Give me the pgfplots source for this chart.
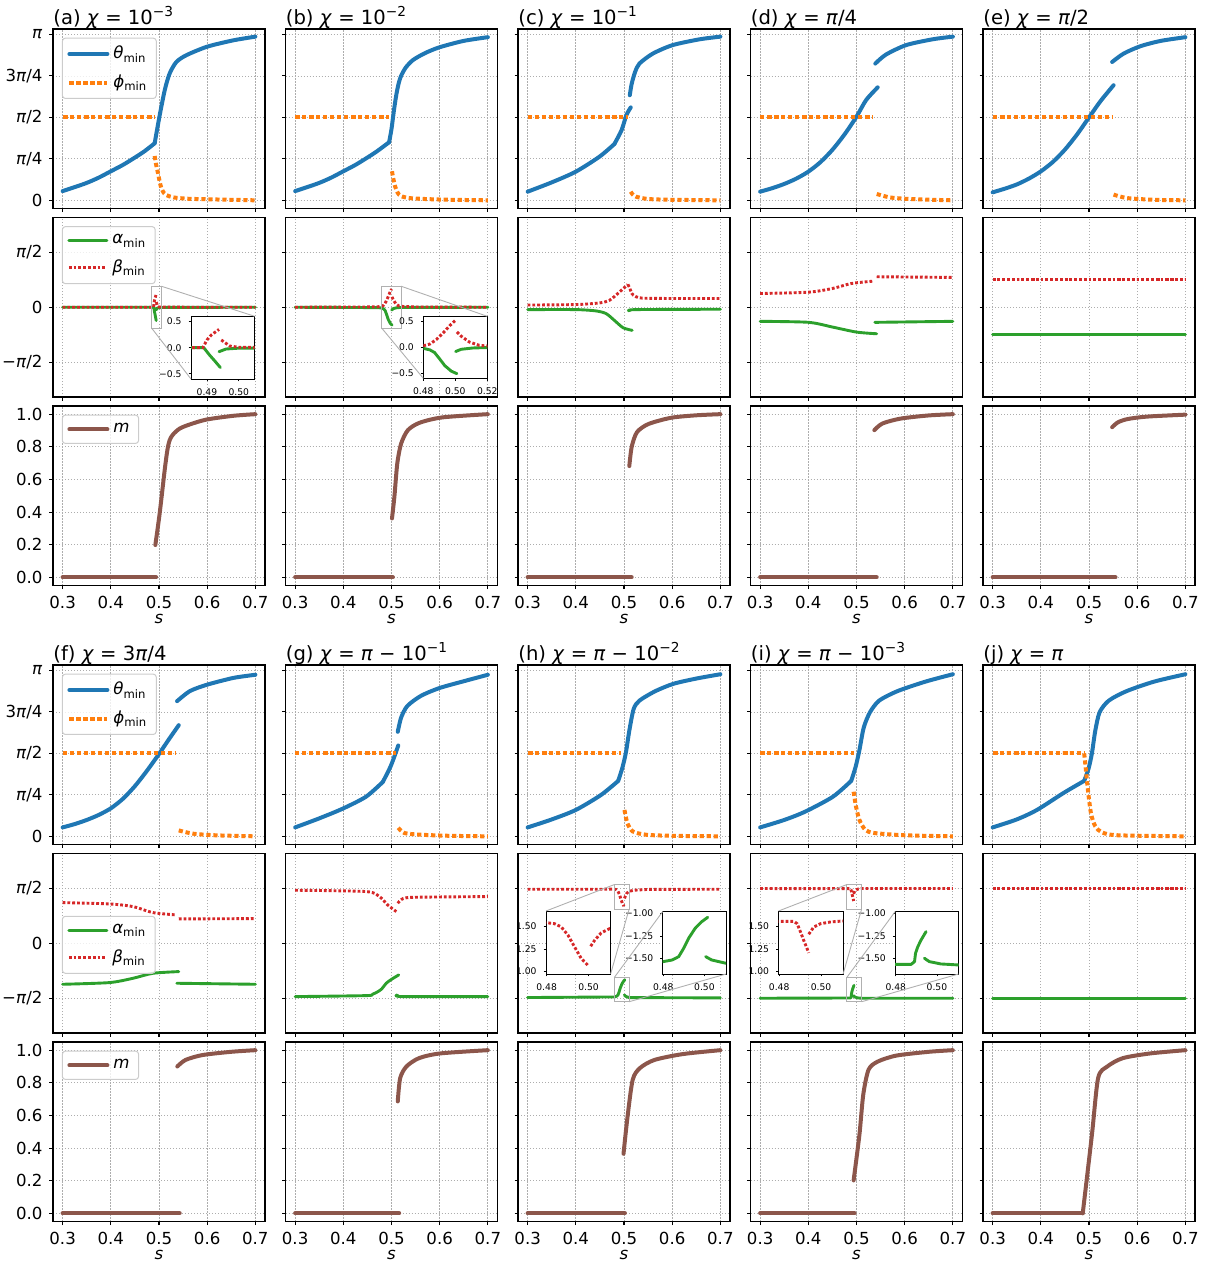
\documentclass[border=0pt]{standalone}
\usepackage{fontspec}
\setmainfont{DejaVu Sans}
\usepackage{pgfplots}
\usepackage{pgfplotstable}
\pgfplotsset{compat=1.18}

\definecolor{tabblue}{HTML}{1F77B4}
\definecolor{taborange}{HTML}{FF7F0E}
\definecolor{tabgreen}{HTML}{2CA02C}
\definecolor{tabred}{HTML}{D62728}
\definecolor{tabbrown}{HTML}{8C564B}
\definecolor{zoomgray}{HTML}{B0B0B0}

\newcommand\tfs{\fontsize{8.3}{9.5}\selectfont}
\newcommand\hfs{\fontsize{9.8}{11}\selectfont}
\newcommand\ifs{\fontsize{4.6}{5.5}\selectfont}
\newcommand\pii{\textit{π}}

\tikzset{zoomln/.style={draw=zoomgray, line width=0.45pt}}

% inset series (alpha, beta) for panels a, b, h, i
\pgfplotstableread{
x y
0.30 0
0.489 0
0.4908 -0.14
0.4924 -0.25
0.4942 -0.38
0.4942 nan
0.4938 -0.077
0.496 -0.026
0.50 -0.01
0.52 -0.003
0.70 0
}\aAl
\pgfplotstableread{
x y
0.30 0
0.4887 0
0.490 0.147
0.4914 0.244
0.4938 0.35
0.4938 nan
0.4945 0.147
0.4972 0.03
0.50 0.008
0.52 0.002
0.70 0
}\aBe
\pgfplotstableread{
x y
0.30 0
0.47 -0.01
0.48 -0.02
0.4841 -0.05
0.487 -0.10
0.4903 -0.228
0.4934 -0.354
0.4975 -0.462
0.501 -0.51
0.501 nan
0.5002 -0.082
0.5037 -0.038
0.511 -0.013
0.52 -0.005
0.70 0
}\bAl
\pgfplotstableread{
x y
0.30 0
0.47 0.01
0.48 0.03
0.4841 0.063
0.4882 0.152
0.4924 0.278
0.4965 0.418
0.50 0.52
0.50 nan
0.501 0.297
0.5037 0.215
0.5089 0.10
0.515 0.038
0.52 0.025
0.55 0.008
0.70 0
}\bBe
\pgfplotstableread{
x y
0.30 -1.550
0.48 -1.533
0.4843 -1.515
0.4875 -1.478
0.4899 -1.386
0.4923 -1.276
0.4955 -1.165
0.4987 -1.092
0.5016 -1.044
0.5016 nan
0.5006 -1.478
0.5035 -1.515
0.5104 -1.551
0.70 -1.560
}\hAl
\pgfplotstableread{
x y
0.30 1.543
0.48 1.544
0.4838 1.533
0.487 1.496
0.4902 1.404
0.4933 1.274
0.4965 1.144
0.50 1.059
0.50 nan
0.501 1.281
0.5029 1.348
0.506 1.43
0.51 1.478
0.52 1.515
0.55 1.538
0.70 1.543
}\hBe
\pgfplotstableread{
x y
0.30 -1.570
0.4875 -1.563
0.4891 -1.533
0.4896 -1.44
0.4907 -1.368
0.4923 -1.294
0.4947 -1.202
0.4947 nan
0.4939 -1.496
0.4963 -1.533
0.5019 -1.559
0.5104 -1.570
0.70 -1.570
}\iAl
\pgfplotstableread{
x y
0.30 1.563
0.487 1.559
0.4886 1.533
0.4902 1.44
0.4917 1.348
0.4933 1.256
0.4941 1.207
0.4941 nan
0.4941 1.415
0.4965 1.496
0.4997 1.533
0.5044 1.552
0.51 1.563
0.70 1.565
}\iBe

\pgfplotsset{
  legend image code/.code={\draw[#1, sharp plot] (0pt,0pt) -- (19pt,0pt);},
  panel/.style={
    scale only axis, width=106pt, height=89.75pt, anchor=north west,
    xmin=0.28, xmax=0.72, xtick={0.3,0.4,0.5,0.6,0.7},
    xticklabels={}, yticklabels={},
    grid=major,
    grid style={line width=0.4pt, draw=black!32, dash pattern=on 0.6pt off 0.9pt},
    tick align=outside, tick pos=left, major tick length=1.75pt,
    axis line style={line width=0.55pt},
    every tick/.style={black, line width=0.55pt},
    tick label style={font=\tfs},
    unbounded coords=jump,
    every axis title/.style={at={(0,1)}, anchor=base west, yshift=2.4pt, inner sep=0pt, font=\hfs},
    every axis x label/.style={at={(0.5,0)}, anchor=base, yshift=-18.8pt, inner sep=0pt, font=\tfs},
  },
  rowA/.style={ymin=-0.155, ymax=3.245, ytick={0,0.785398,1.570796,2.356194,3.141593}},
  rowB/.style={ymin=-2.563, ymax=2.563, ytick={-1.570796,0,1.570796}},
  rowC/.style={ymin=-0.05, ymax=1.05, ytick={0,0.2,0.4,0.6,0.8,1.0}},
  labA/.style={yticklabels={0,\pii/4,\pii/2,3\pii/4,\pii}},
  labB/.style={yticklabels={−\pii/2,0,\pii/2}},
  labC/.style={yticklabels={0.0,0.2,0.4,0.6,0.8,1.0}},
  labX/.style={xticklabels={0.3,0.4,0.5,0.6,0.7}, xlabel={\textit{s}}},
  mylegend/.style={legend style={at={(0.042,#1)}, anchor=north west,
    draw=black!20, line width=0.5pt, rounded corners=1.5pt,
    fill=white, fill opacity=0.8, draw opacity=1, text opacity=1,
    font=\tfs, inner xsep=2.5pt, inner ysep=2pt, row sep=2.5pt,
    cells={anchor=west}}},
  mylegend/.default=0.952,
  inset/.style={
    scale only axis, anchor=north west,
    axis background/.style={fill=white},
    tick align=outside, tick pos=left, major tick length=1.2pt,
    every tick/.style={black, line width=0.4pt},
    axis line style={line width=0.5pt},
    tick label style={font=\ifs},
    unbounded coords=jump,
  },
  th/.style={color=tabblue, line width=2pt, line join=round, line cap=round, smooth, tension=0.45},
  ph/.style={color=taborange, line width=2pt, dash pattern=on 2.1pt off 1.4pt, smooth, tension=0.45},
  al/.style={color=tabgreen, line width=1.45pt, line join=round, line cap=round, smooth, tension=0.45},
  be/.style={color=tabred, line width=1.45pt, dash pattern=on 1.4pt off 1pt, smooth, tension=0.45},
  mm/.style={color=tabbrown, line width=2pt, line join=round, line cap=round, smooth, tension=0.45},
}

\begin{document}
\begin{tikzpicture}

% ================= top group: row A (theta, phi) =================
\begin{axis}[panel,rowA,labA,at={(26.5pt,-14.5pt)},title={(a) \textit{χ} = 10\textsuperscript{−3}},mylegend]
\addplot[th] coordinates {(0.30,0.175)(0.325,0.25)(0.35,0.33)(0.375,0.43)(0.40,0.55)(0.425,0.67)(0.45,0.81)(0.47,0.93)(0.491,1.08)};
\addlegendentry{\textit{θ}\textsubscript{min}}
\addplot[ph] coordinates {(0.30,1.5708)(0.491,1.5708)};
\addlegendentry{\textit{ϕ}\textsubscript{min}}
\addplot[th,forget plot] coordinates {(0.491,1.08)(0.501,1.59)(0.512,2.09)(0.522,2.40)(0.536,2.62)(0.557,2.75)(0.60,2.91)(0.654,3.03)(0.70,3.10)};
\addplot[ph,forget plot] coordinates {(0.491,0.84)(0.494,0.68)(0.498,0.51)(0.502,0.33)(0.505,0.23)(0.51,0.14)(0.515,0.10)(0.53,0.055)(0.56,0.03)(0.60,0.02)(0.65,0.01)(0.70,0.0)};
\end{axis}

\begin{axis}[panel,rowA,at={(142.75pt,-14.5pt)},title={(b) \textit{χ} = 10\textsuperscript{−2}}]
\addplot[th] coordinates {(0.30,0.175)(0.325,0.25)(0.35,0.33)(0.375,0.43)(0.40,0.55)(0.425,0.67)(0.45,0.81)(0.47,0.93)(0.495,1.10)};
\addplot[th] coordinates {(0.495,1.10)(0.50,1.35)(0.505,1.70)(0.51,2.0)(0.515,2.22)(0.52,2.36)(0.53,2.52)(0.545,2.66)(0.57,2.79)(0.60,2.90)(0.65,3.02)(0.70,3.09)};
\addplot[ph] coordinates {(0.30,1.5708)(0.495,1.5708)};
\addplot[ph] coordinates {(0.501,0.55)(0.504,0.40)(0.508,0.25)(0.513,0.14)(0.52,0.08)(0.54,0.04)(0.60,0.015)(0.70,0)};
\end{axis}

\begin{axis}[panel,rowA,at={(259pt,-14.5pt)},title={(c) \textit{χ} = 10\textsuperscript{−1}}]
\addplot[th] coordinates {(0.30,0.164)(0.35,0.34)(0.40,0.543)(0.449,0.826)(0.48,1.066)};
\addplot[th] coordinates {(0.48,1.066)(0.495,1.33)(0.505,1.615)(0.514,1.76)};
\addplot[th] coordinates {(0.512,1.99)(0.516,2.21)(0.523,2.43)(0.532,2.59)(0.56,2.78)(0.601,2.94)(0.657,3.05)(0.70,3.10)};
\addplot[ph] coordinates {(0.30,1.5708)(0.508,1.5708)};
\addplot[ph] coordinates {(0.514,0.164)(0.518,0.11)(0.525,0.069)(0.55,0.025)(0.60,0.01)(0.70,0)};
\end{axis}

\begin{axis}[panel,rowA,at={(375.25pt,-14.5pt)},title={(d) \textit{χ} = \pii/4}]
\addplot[th] coordinates {(0.30,0.164)(0.325,0.230)(0.35,0.310)(0.375,0.411)(0.40,0.543)(0.425,0.722)(0.45,0.957)(0.475,1.246)(0.50,1.584)(0.52,1.90)(0.544,2.14)};
\addplot[th] coordinates {(0.539,2.59)(0.561,2.76)(0.603,2.94)(0.658,3.05)(0.70,3.10)};
\addplot[ph] coordinates {(0.30,1.5708)(0.535,1.5708)};
\addplot[ph] coordinates {(0.542,0.12)(0.568,0.057)(0.60,0.03)(0.65,0.012)(0.70,0)};
\end{axis}

\begin{axis}[panel,rowA,at={(491.5pt,-14.5pt)},title={(e) \textit{χ} = \pii/2}]
\addplot[th] coordinates {(0.30,0.151)(0.325,0.22)(0.35,0.30)(0.375,0.41)(0.40,0.548)(0.425,0.727)(0.45,0.96)(0.475,1.245)(0.50,1.57)(0.524,1.88)(0.551,2.18)};
\addplot[th] coordinates {(0.548,2.62)(0.572,2.78)(0.607,2.92)(0.649,3.02)(0.70,3.09)};
\addplot[ph] coordinates {(0.30,1.5708)(0.548,1.5708)};
\addplot[ph] coordinates {(0.551,0.108)(0.579,0.043)(0.635,0.01)(0.70,0)};
\end{axis}

% ================= top group: row B (alpha, beta) =================
\begin{axis}[panel,rowB,labB,at={(26.5pt,-108.75pt)},mylegend]
\addplot[al,sharp plot] table {\aAl};
\addlegendentry{\textit{α}\textsubscript{min}}
\addplot[be,sharp plot] table {\aBe};
\addlegendentry{\textit{β}\textsubscript{min}}
\draw[zoomln] (axis cs:0.485,-0.6) rectangle (axis cs:0.505,0.6);
\coordinate (aTR) at (axis cs:0.505,0.6);
\coordinate (aBL) at (axis cs:0.485,-0.6);
\end{axis}
\begin{axis}[inset,name=insA,at={(95.5pt,-158.15pt)},width=31.85pt,height=31.35pt,
  xmin=0.485,xmax=0.505,ymin=-0.6,ymax=0.6,xtick={0.49,0.50},xticklabels={0.49,0.50},
  ytick={-0.5,0,0.5},yticklabels={−0.5,0.0,0.5}]
\addplot[al,sharp plot] table {\aAl};
\addplot[be,sharp plot] table {\aBe};
\end{axis}
\draw[zoomln] (aTR) -- (insA.north east);
\draw[zoomln] (aBL) -- (insA.south west);

\begin{axis}[panel,rowB,at={(142.75pt,-108.75pt)}]
\addplot[al,sharp plot] table {\bAl};
\addplot[be,sharp plot] table {\bBe};
\draw[zoomln] (axis cs:0.48,-0.6) rectangle (axis cs:0.52,0.6);
\coordinate (bTR) at (axis cs:0.52,0.6);
\coordinate (bBL) at (axis cs:0.48,-0.6);
\end{axis}
\begin{axis}[inset,name=insB,at={(211.65pt,-158.15pt)},width=32pt,height=31pt,
  xmin=0.48,xmax=0.52,ymin=-0.6,ymax=0.6,xtick={0.48,0.50,0.52},xticklabels={0.48,0.50,0.52},
  ytick={-0.5,0,0.5},yticklabels={−0.5,0.0,0.5}]
\addplot[al,sharp plot] table {\bAl};
\addplot[be,sharp plot] table {\bBe};
\end{axis}
\draw[zoomln] (bTR) -- (insB.north east);
\draw[zoomln] (bBL) -- (insB.south west);

\begin{axis}[panel,rowB,at={(259pt,-108.75pt)}]
\addplot[al] coordinates {(0.30,-0.067)(0.40,-0.067)(0.442,-0.105)(0.463,-0.182)(0.48,-0.374)(0.498,-0.584)(0.517,-0.66)};
\addplot[al] coordinates {(0.511,-0.105)(0.525,-0.067)(0.70,-0.057)};
\addplot[be] coordinates {(0.30,0.063)(0.40,0.077)(0.449,0.124)(0.47,0.20)(0.491,0.44)(0.508,0.651)};
\addplot[be] coordinates {(0.508,0.651)(0.512,0.55)(0.516,0.40)(0.525,0.30)(0.55,0.255)(0.70,0.25)};
\end{axis}

\begin{axis}[panel,rowB,at={(375.25pt,-108.75pt)}]
\addplot[al] coordinates {(0.30,-0.402)(0.40,-0.43)(0.45,-0.565)(0.50,-0.709)(0.542,-0.757)};
\addplot[al] coordinates {(0.538,-0.431)(0.70,-0.402)};
\addplot[be] coordinates {(0.30,0.393)(0.40,0.43)(0.45,0.536)(0.49,0.68)(0.536,0.747)};
\addplot[be] coordinates {(0.542,0.871)(0.70,0.852)};
\end{axis}

\begin{axis}[panel,rowB,at={(491.5pt,-108.75pt)}]
\addplot[al] coordinates {(0.30,-0.785)(0.70,-0.785)};
\addplot[be] coordinates {(0.30,0.785)(0.70,0.785)};
\end{axis}

% ================= top group: row C (m) =================
\begin{axis}[panel,rowC,labC,labX,at={(26.5pt,-203pt)},mylegend]
\addplot[mm] coordinates {(0.30,0)(0.494,0)};
\addlegendentry{\textit{m}}
\addplot[mm,forget plot] coordinates {(0.4924,0.198)(0.5014,0.392)(0.5118,0.657)(0.5174,0.78)(0.5222,0.841)(0.5292,0.876)(0.5431,0.912)(0.5639,0.937)(0.5986,0.967)(0.6542,0.99)(0.70,1.0)};
\end{axis}

\begin{axis}[panel,rowC,labX,at={(142.75pt,-203pt)}]
\addplot[mm] coordinates {(0.30,0)(0.503,0)};
\addplot[mm] coordinates {(0.501,0.361)(0.506,0.494)(0.512,0.698)(0.52,0.82)(0.534,0.902)(0.558,0.947)(0.605,0.98)(0.70,1.0)};
\end{axis}

\begin{axis}[panel,rowC,labX,at={(259pt,-203pt)}]
\addplot[mm] coordinates {(0.30,0)(0.516,0)};
\addplot[mm] coordinates {(0.511,0.682)(0.516,0.80)(0.527,0.89)(0.551,0.94)(0.598,0.978)(0.65,0.993)(0.70,1.0)};
\end{axis}

\begin{axis}[panel,rowC,labX,at={(375.25pt,-203pt)}]
\addplot[mm] coordinates {(0.30,0)(0.542,0)};
\addplot[mm] coordinates {(0.537,0.902)(0.554,0.943)(0.592,0.973)(0.649,0.992)(0.70,1.0)};
\end{axis}

\begin{axis}[panel,rowC,labX,at={(491.5pt,-203pt)}]
\addplot[mm] coordinates {(0.30,0)(0.555,0)};
\addplot[mm] coordinates {(0.548,0.92)(0.56,0.95)(0.58,0.97)(0.62,0.985)(0.70,0.997)};
\end{axis}

% ================= bottom group: row A =================
\begin{axis}[panel,rowA,labA,at={(26.5pt,-332.5pt)},title={(f) \textit{χ} = 3\pii/4},mylegend]
\addplot[th] coordinates {(0.30,0.169)(0.325,0.232)(0.35,0.31)(0.375,0.406)(0.40,0.53)(0.425,0.71)(0.45,0.951)(0.475,1.242)(0.50,1.56)(0.52,1.83)(0.541,2.105)};
\addlegendentry{\textit{θ}\textsubscript{min}}
\addplot[ph] coordinates {(0.30,1.5708)(0.536,1.5708)};
\addlegendentry{\textit{ϕ}\textsubscript{min}}
\addplot[th,forget plot] coordinates {(0.5375,2.56)(0.564,2.75)(0.599,2.87)(0.654,3.00)(0.70,3.06)};
\addplot[ph,forget plot] coordinates {(0.541,0.112)(0.571,0.05)(0.619,0.019)(0.70,0)};
\end{axis}

\begin{axis}[panel,rowA,at={(142.75pt,-332.5pt)},title={(g) \textit{χ} = \pii\ − 10\textsuperscript{−1}}]
\addplot[th] coordinates {(0.30,0.169)(0.35,0.34)(0.399,0.525)(0.447,0.75)(0.482,1.03)};
\addplot[th] coordinates {(0.482,1.03)(0.499,1.343)(0.514,1.72)};
\addplot[th] coordinates {(0.513,1.98)(0.52,2.25)(0.533,2.47)(0.561,2.66)(0.60,2.81)(0.655,2.95)(0.70,3.06)};
\addplot[ph] coordinates {(0.30,1.5708)(0.51,1.5708)};
\addplot[ph] coordinates {(0.514,0.162)(0.527,0.062)(0.56,0.031)(0.62,0.01)(0.70,0)};
\end{axis}

\begin{axis}[panel,rowA,at={(259pt,-332.5pt)},title={(h) \textit{χ} = \pii\ − 10\textsuperscript{−2}}]
\addplot[th] coordinates {(0.30,0.169)(0.35,0.32)(0.40,0.50)(0.452,0.782)(0.488,1.05)};
\addplot[th] coordinates {(0.488,1.05)(0.497,1.31)(0.504,1.59)(0.511,2.0)(0.52,2.41)(0.532,2.57)(0.565,2.75)(0.603,2.89)(0.651,2.99)(0.70,3.07)};
\addplot[ph] coordinates {(0.30,1.5708)(0.494,1.5708)};
\addplot[ph] coordinates {(0.501,0.50)(0.507,0.25)(0.518,0.094)(0.546,0.03)(0.60,0.01)(0.70,0)};
\end{axis}

\begin{axis}[panel,rowA,at={(375.25pt,-332.5pt)},title={(i) \textit{χ} = \pii\ − 10\textsuperscript{−3}}]
\addplot[th] coordinates {(0.30,0.169)(0.35,0.31)(0.394,0.47)(0.451,0.75)(0.489,1.05)};
\addplot[th] coordinates {(0.489,1.05)(0.498,1.31)(0.506,1.63)(0.515,2.06)(0.528,2.35)(0.547,2.57)(0.585,2.75)(0.643,2.93)(0.70,3.07)};
\addplot[ph] coordinates {(0.30,1.5708)(0.494,1.5708)};
\addplot[ph] coordinates {(0.494,0.845)(0.499,0.563)(0.506,0.313)(0.518,0.125)(0.537,0.063)(0.60,0.02)(0.70,0)};
\end{axis}

\begin{axis}[panel,rowA,at={(491.5pt,-332.5pt)},title={(j) \textit{χ} = \pii}]
\addplot[th] coordinates {(0.30,0.169)(0.35,0.32)(0.392,0.50)(0.448,0.826)(0.49,1.05)};
\addplot[th] coordinates {(0.49,1.05)(0.499,1.28)(0.506,1.57)(0.513,2.0)(0.522,2.35)(0.541,2.57)(0.578,2.75)(0.635,2.93)(0.70,3.07)};
\addplot[ph] coordinates {(0.30,1.5708)(0.49,1.5708)};
\addplot[ph] coordinates {(0.49,1.5708)(0.493,1.31)(0.497,0.94)(0.504,0.44)(0.513,0.19)(0.527,0.075)(0.56,0.02)(0.70,0)};
\end{axis}

% ================= bottom group: row B =================
\begin{axis}[panel,rowB,labB,at={(26.5pt,-426.75pt)},mylegend=0.653]
\addplot[al] coordinates {(0.30,-1.171)(0.397,-1.123)(0.446,-1.0)(0.4875,-0.857)(0.541,-0.809)};
\addlegendentry{\textit{α}\textsubscript{min}}
\addplot[be] coordinates {(0.30,1.161)(0.397,1.123)(0.446,1.047)(0.4875,0.876)(0.536,0.809)};
\addlegendentry{\textit{β}\textsubscript{min}}
\addplot[al,forget plot] coordinates {(0.537,-1.142)(0.70,-1.171)};
\addplot[be,forget plot] coordinates {(0.541,0.695)(0.70,0.704)};
\end{axis}

\begin{axis}[panel,rowB,at={(142.75pt,-426.75pt)}]
\addplot[al] coordinates {(0.30,-1.523)(0.447,-1.495)(0.46,-1.46)(0.472,-1.38)(0.48,-1.30)(0.489,-1.142)(0.50,-1.03)(0.515,-0.904)};
\addplot[al] coordinates {(0.512,-1.476)(0.524,-1.523)(0.70,-1.523)};
\addplot[be] coordinates {(0.30,1.514)(0.447,1.476)(0.475,1.333)(0.492,1.095)(0.51,0.904)};
\addplot[be] coordinates {(0.513,1.142)(0.524,1.276)(0.551,1.314)(0.70,1.333)};
\end{axis}

\begin{axis}[panel,rowB,at={(259pt,-426.75pt)}]
\addplot[al,sharp plot] table {\hAl};
\addplot[be,sharp plot] table {\hBe};
\draw[zoomln] (axis cs:0.4797,0.97) rectangle (axis cs:0.5105,1.675);
\draw[zoomln] (axis cs:0.4797,-1.67) rectangle (axis cs:0.5105,-0.98);
\coordinate (hbTL) at (axis cs:0.4797,1.675);
\coordinate (hbBR) at (axis cs:0.5105,0.97);
\coordinate (haTL) at (axis cs:0.4797,-0.98);
\coordinate (haBR) at (axis cs:0.5105,-1.67);
\end{axis}
\begin{axis}[inset,name=insHb,at={(273pt,-455.5pt)},width=32.3pt,height=31.5pt,
  xmin=0.4797,xmax=0.5105,ymin=0.97,ymax=1.675,xtick={0.48,0.50},xticklabels={0.48,0.50},
  ytick={1.0,1.25,1.5},yticklabels={1.00,1.25,1.50}]
\addplot[be,sharp plot] table {\hBe};
\end{axis}
\begin{axis}[inset,name=insHa,at={(331.35pt,-455.75pt)},width=31.65pt,height=31.25pt,
  xmin=0.4797,xmax=0.5105,ymin=-1.67,ymax=-0.98,xtick={0.48,0.50},xticklabels={0.48,0.50},
  ytick={-1.5,-1.25,-1.0},yticklabels={−1.50,−1.25,−1.00}]
\addplot[al,sharp plot] table {\hAl};
\end{axis}
\draw[zoomln] (hbTL) -- (insHb.north west);
\draw[zoomln] (hbBR) -- (insHb.south east);
\draw[zoomln] (haTL) -- (insHa.north west);
\draw[zoomln] (haBR) -- (insHa.south east);

\begin{axis}[panel,rowB,at={(375.25pt,-426.75pt)}]
\addplot[al,sharp plot] table {\iAl};
\addplot[be,sharp plot] table {\iBe};
\draw[zoomln] (axis cs:0.4797,0.97) rectangle (axis cs:0.5105,1.675);
\draw[zoomln] (axis cs:0.4797,-1.67) rectangle (axis cs:0.5105,-0.98);
\coordinate (ibTL) at (axis cs:0.4797,1.675);
\coordinate (ibBR) at (axis cs:0.5105,0.97);
\coordinate (iaTL) at (axis cs:0.4797,-0.98);
\coordinate (iaBR) at (axis cs:0.5105,-1.67);
\end{axis}
\begin{axis}[inset,name=insIb,at={(389.25pt,-455.5pt)},width=32.3pt,height=31.5pt,
  xmin=0.4797,xmax=0.5105,ymin=0.97,ymax=1.675,xtick={0.48,0.50},xticklabels={0.48,0.50},
  ytick={1.0,1.25,1.5},yticklabels={1.00,1.25,1.50}]
\addplot[be,sharp plot] table {\iBe};
\end{axis}
\begin{axis}[inset,name=insIa,at={(447.6pt,-455.75pt)},width=31.65pt,height=31.25pt,
  xmin=0.4797,xmax=0.5105,ymin=-1.67,ymax=-0.98,xtick={0.48,0.50},xticklabels={0.48,0.50},
  ytick={-1.5,-1.25,-1.0},yticklabels={−1.50,−1.25,−1.00}]
\addplot[al,sharp plot] table {\iAl};
\end{axis}
\draw[zoomln] (ibTL) -- (insIb.north west);
\draw[zoomln] (ibBR) -- (insIb.south east);
\draw[zoomln] (iaTL) -- (insIa.north west);
\draw[zoomln] (iaBR) -- (insIa.south east);

\begin{axis}[panel,rowB,at={(491.5pt,-426.75pt)}]
\addplot[al] coordinates {(0.30,-1.5708)(0.70,-1.5708)};
\addplot[be] coordinates {(0.30,1.5708)(0.70,1.5708)};
\end{axis}

% ================= bottom group: row C =================
\begin{axis}[panel,rowC,labC,labX,at={(26.5pt,-521pt)},mylegend]
\addplot[mm] coordinates {(0.30,0)(0.543,0)};
\addlegendentry{\textit{m}}
\addplot[mm,forget plot] coordinates {(0.538,0.90)(0.555,0.94)(0.59,0.97)(0.65,0.99)(0.70,1.0)};
\end{axis}

\begin{axis}[panel,rowC,labX,at={(142.75pt,-521pt)}]
\addplot[mm] coordinates {(0.30,0)(0.516,0)};
\addplot[mm] coordinates {(0.513,0.686)(0.518,0.829)(0.531,0.9)(0.557,0.951)(0.601,0.98)(0.70,1.0)};
\end{axis}

\begin{axis}[panel,rowC,labX,at={(259pt,-521pt)}]
\addplot[mm] coordinates {(0.30,0)(0.502,0)};
\addplot[mm] coordinates {(0.499,0.365)(0.507,0.584)(0.518,0.818)(0.533,0.89)(0.563,0.94)(0.622,0.976)(0.70,1.0)};
\end{axis}

\begin{axis}[panel,rowC,labX,at={(375.25pt,-521pt)}]
\addplot[mm] coordinates {(0.30,0)(0.496,0)};
\addplot[mm] coordinates {(0.494,0.202)(0.506,0.48)(0.514,0.727)(0.525,0.88)(0.544,0.93)(0.583,0.967)(0.65,0.99)(0.70,1.0)};
\end{axis}

\begin{axis}[panel,rowC,labX,at={(491.5pt,-521pt)}]
\addplot[mm] coordinates {(0.30,0)(0.487,0)};
\addplot[mm] coordinates {(0.487,0)(0.506,0.48)(0.519,0.83)(0.538,0.90)(0.57,0.951)(0.627,0.98)(0.70,1.0)};
\end{axis}

\pgfresetboundingbox
\useasboundingbox (0pt,0pt) rectangle (606pt,-632pt);
\end{tikzpicture}
\end{document}
